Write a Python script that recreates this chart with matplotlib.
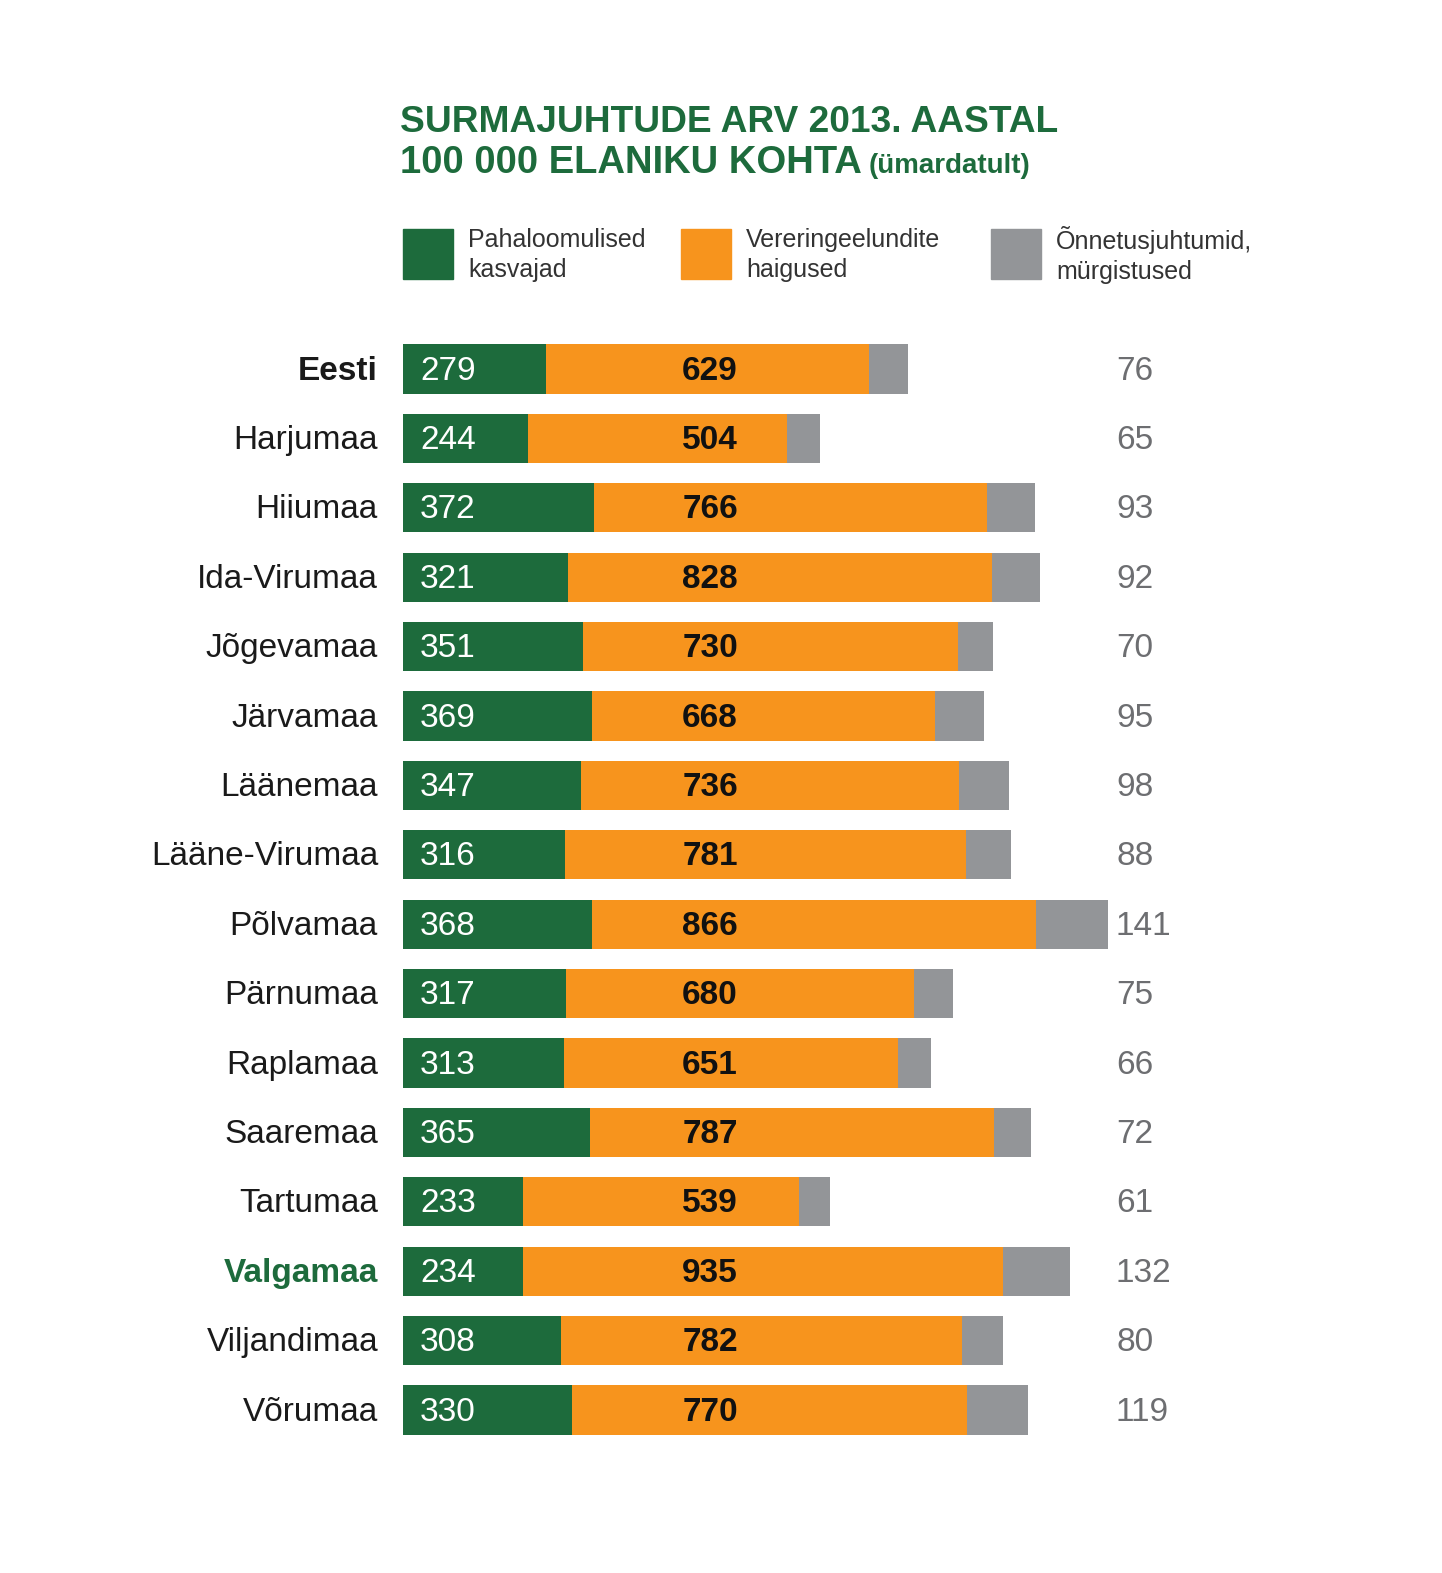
import matplotlib.pyplot as plt
from matplotlib.patches import Rectangle

regions = ["Eesti", "Harjumaa", "Hiiumaa", "Ida-Virumaa", "Jõgevamaa", "Järvamaa",
           "Läänemaa", "Lääne-Virumaa", "Põlvamaa", "Pärnumaa", "Raplamaa",
           "Saaremaa", "Tartumaa", "Valgamaa", "Viljandimaa", "Võrumaa"]
cancer = [279, 244, 372, 321, 351, 369, 347, 316, 368, 317, 313, 365, 233, 234, 308, 330]
circulatory = [629, 504, 766, 828, 730, 668, 736, 781, 866, 680, 651, 787, 539, 935, 782, 770]
accidents = [76, 65, 93, 92, 70, 95, 98, 88, 141, 75, 66, 72, 61, 132, 80, 119]
legend_labels = ["Pahaloomulised\nkasvajad", "Vereringeelundite\nhaigused", "Õnnetusjuhtumid,\nmürgistused"]

GREEN = "#1d6b3c"
ORANGE = "#f7941d"
GREY = "#939598"
FONT = ["Liberation Sans", "DejaVu Sans"]

W, H = 1442, 1573
fig = plt.figure(figsize=(W / 100, H / 100), dpi=100)
fig.patch.set_facecolor("white")

# axes: x=0 at px 403
px_unit = 0.513
xmax = 1400
top_px, bot_px = 334.3, 1444.7
ax = fig.add_axes([403 / W, 1 - bot_px / H, xmax * px_unit / W, (bot_px - top_px) / H])
ax.set_xlim(0, xmax)
ax.set_ylim(len(regions) - 0.5, -0.5)
ax.axis("off")

ys = list(range(len(regions)))
h = 0.71
ax.barh(ys, cancer, height=h, color=GREEN, linewidth=0)
ax.barh(ys, circulatory, left=cancer, height=h, color=ORANGE, linewidth=0)
lefts = [a + b for a, b in zip(cancer, circulatory)]
ax.barh(ys, accidents, left=lefts, height=h, color=GREY, linewidth=0)

orange_x = (710 - 403) / px_unit
grey_x = (1116 - 403) / px_unit
label_x = -25 / px_unit
for i, name in enumerate(regions):
    ax.text(17 / px_unit, i + 0.03, str(cancer[i]), color="white", fontsize=24,
            va="center", ha="left", family=FONT)
    ax.text(orange_x, i + 0.03, str(circulatory[i]), color="#111111", fontsize=24,
            va="center", ha="center", fontweight="bold", family=FONT)
    ax.text(grey_x, i + 0.03, str(accidents[i]), color="#6d6e71", fontsize=24,
            va="center", ha="left", family=FONT)
    col, fw = "#1a1a1a", "normal"
    if name == "Eesti":
        fw = "bold"
    if name == "Valgamaa":
        col, fw = GREEN, "bold"
    ax.text(label_x, i + 0.03, name, color=col, fontsize=24, va="center", ha="right",
            fontweight=fw, family=FONT, clip_on=False)

# title
fig.text(400 / W, 1 - 123 / H, "SURMAJUHTUDE ARV 2013. AASTAL", color=GREEN, fontsize=26.7,
         fontweight="bold", family=FONT, va="center", ha="left")
t = fig.text(400 / W, 1 - 163 / H, "100 000 ELANIKU KOHTA", color=GREEN, fontsize=27.5,
             fontweight="bold", family=FONT, va="center", ha="left")
fig.canvas.draw()
bb = t.get_window_extent()
fig.text((bb.x1 + 7) / W, 1 - 166 / H, "(ümardatult)", color=GREEN, fontsize=20,
         fontweight="bold", family=FONT, va="center", ha="left")

# legend
colors = [GREEN, ORANGE, GREY]
box_x = [403, 681, 991]
for bx, c, lab in zip(box_x, colors, legend_labels):
    fig.patches.append(Rectangle((bx / W, 1 - 279 / H), 50 / W, 50 / H, color=c,
                                 transform=fig.transFigure, figure=fig))
    fig.text((bx + 65) / W, 1 - 255 / H, lab, color="#333333", fontsize=18,
             family=FONT, va="center", ha="left", linespacing=1.3)

fig.savefig("out.png", dpi=100, facecolor="white")
